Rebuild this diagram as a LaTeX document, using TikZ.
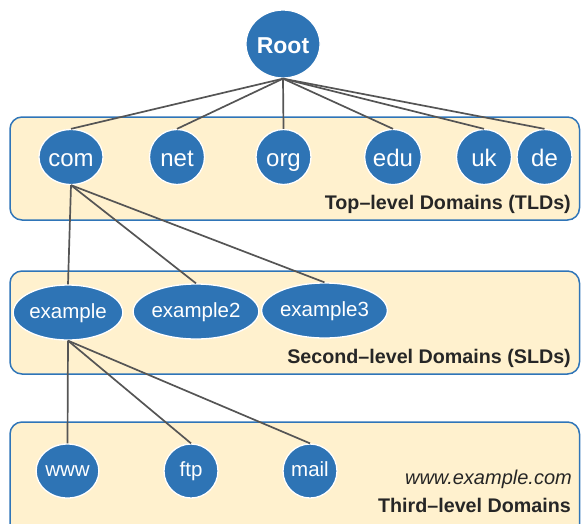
\documentclass[tikz,border=0pt]{standalone}
\usepackage{fontspec}
\setmainfont{Liberation Sans}
\usetikzlibrary{shapes.geometric}
\definecolor{nodeblue}{HTML}{2E74B5}
\definecolor{boxfill}{HTML}{FFF1CE}
\definecolor{boxline}{HTML}{2F75B8}
\definecolor{edgegray}{HTML}{555555}
\definecolor{labeltext}{HTML}{262626}
\tikzset{
  levelbox/.style={draw=boxline, line width=1.5pt, fill=boxfill, rounded corners=12pt},
  dnsnode/.style={ellipse, fill=nodeblue, draw=white, line width=1.3pt, text=white,
    inner sep=0pt},
  tld/.style={dnsnode, minimum width=55pt, minimum height=55pt,
    text height=19pt, text depth=0pt, font=\fontsize{24}{26}\selectfont},
  sld/.style={dnsnode, minimum height=55pt,
    text height=11pt, text depth=0pt, font=\fontsize{20.5}{23}\selectfont},
  host/.style={dnsnode, minimum width=54pt, minimum height=54pt,
    text height=11pt, text depth=0pt, font=\fontsize{20.5}{23}\selectfont},
  link/.style={draw=edgegray, line width=1.7pt},
  levellabel/.style={anchor=base east, inner sep=0pt, text=labeltext,
    font=\bfseries\fontsize{19.7}{22}\selectfont},
}
\begin{document}
\begin{tikzpicture}[x=1pt, y=-1pt]
\useasboundingbox (0,0) rectangle (581,523);

% level panels
\path[levelbox] (10,117) rectangle (579.5,220);
\path[levelbox] (10,271) rectangle (579.5,374);
\path[levelbox] (10,422) rectangle (579.5,545);

% root
\node[dnsnode, minimum width=66pt, minimum height=68pt, text height=18.5pt, text depth=0pt,
  font=\bfseries\fontsize{23}{26}\selectfont] (root) at (283,44) {Root};

% top-level domains
\node[tld] (com) at (71,157) {com};
\node[tld] (net) at (177,157) {net};
\node[tld] (org) at (283.5,157) {org};
\node[tld] (edu) at (393,157) {edu};
\node[tld] (uk)  at (484,157) {uk};
\node[tld] (de)  at (544.5,157) {de};

% second-level domains
\node[sld, minimum width=100pt] (example)  at (68,312.5) {example};
\node[sld, minimum width=106pt] (example2) at (196,311.5) {example2};
\node[sld, minimum width=104pt] (example3) at (324.5,310.5) {example3};

% third-level domains
\node[host] (www)  at (67.5,471) {www};
\node[host] (ftp)  at (191,471) {ftp};
\node[host] (mail) at (310,471) {mail};

% tree links
\foreach \t in {com,net,org,edu,uk,de}
  \draw[link] (root.south) -- (\t.north);
\foreach \s in {example,example2,example3}
  \draw[link] (com.south) -- (\s.north);
\foreach \h in {www,ftp,mail}
  \draw[link] (example.south) -- (\h.north);

% level captions
\node[levellabel] (tldcap) at (571,209) {Top–level Domains (TLDs)};
\node[levellabel] (sldcap) at (571,363) {Second–level Domains (SLDs)};
\node[levellabel, font=\itshape\fontsize{20}{22}\selectfont] (fqdn) at (572,484) {www.example.com};
\node[levellabel] (hostcap) at (571,512) {Third–level Domains};
\end{tikzpicture}
\end{document}
